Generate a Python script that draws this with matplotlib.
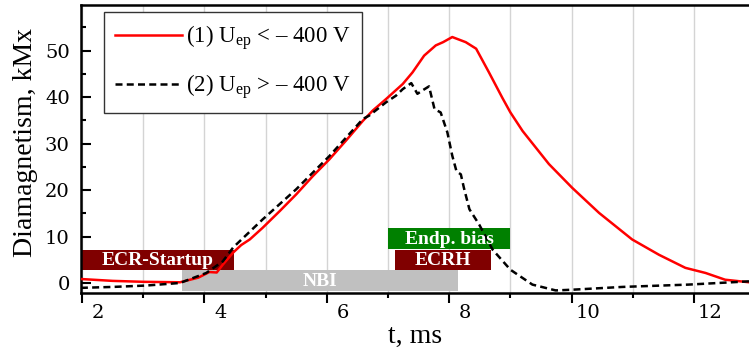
"""
Diamagnetism vs time for two end-plate bias regimes, with heating phases.
"""

import matplotlib.pyplot as plt
import matplotlib.transforms as mtransforms
from matplotlib.ticker import MultipleLocator

# (1) U_ep < -400 V
t_1 = [1.98, 2.5, 3.0, 3.6, 3.9, 4.08, 4.2, 4.3, 4.47, 4.6, 4.74, 4.95, 5.23,
       5.5, 5.77, 6.04, 6.31, 6.59, 6.75, 6.97, 7.24, 7.40, 7.59, 7.78, 7.9,
       8.05, 8.27, 8.44, 8.65, 8.87, 9.0, 9.2, 9.63, 10.01, 10.45, 10.99,
       11.43, 11.86, 12.19, 12.51, 12.9]
dia_1 = [0.9, 0.5, 0.3, 0.2, 1.2, 2.4, 2.3, 4.0, 6.6, 8.2, 9.4, 11.9, 15.5,
         19.1, 23.0, 26.6, 30.6, 34.9, 37.1, 39.6, 42.8, 45.3, 48.9, 51.1, 51.8,
         52.9, 51.8, 50.4, 45.3, 39.8, 36.7, 32.7, 25.6, 20.5, 15.1, 9.4,
         6.1, 3.3, 2.2, 0.75, 0.2]

# (2) U_ep > -400 V
t_2 = [1.98, 2.5, 3.05, 3.6, 4.03, 4.3, 4.47, 4.95, 5.5, 6.04, 6.59, 6.69,
       6.97, 7.13, 7.24, 7.38, 7.48, 7.56, 7.67, 7.76, 7.86, 7.97, 8.05, 8.12,
       8.19, 8.24, 8.33, 8.49, 8.71, 9.0, 9.36, 9.74, 10.01, 10.83, 11.91, 12.9]
dia_2 = [-1.0, -0.8, -0.5, 0.05, 2.2, 4.7, 7.7, 13.7, 20.2, 27.3, 35.3, 36.0,
         38.9, 40.3, 41.7, 43.0, 40.7, 41.4, 42.3, 37.4, 36.7, 32.4, 27.4, 24.0,
         23.4, 20.5, 15.9, 12.6, 7.2, 2.9, -0.3, -1.55, -1.4, -0.8, -0.3, 0.4]

labels = [r"(1) U$_{\rm ep}$ < – 400 V", r"(2) U$_{\rm ep}$ > – 400 V"]

# heating / bias phases: name, t_start, t_end, y_low, y_high
phase_names = ["ECR-Startup", "NBI", "ECRH", "Endp. bias"]
phase_start = [1.98, 3.64, 7.11, 7.0]
phase_end = [4.49, 8.14, 8.69, 9.0]
phase_low = [2.8, -1.6, 2.8, 7.3]
phase_high = [7.2, 2.8, 7.2, 11.9]
phase_colors = ["#800000", "#c0c0c0", "#800000", "#008000"]

serif = "Liberation Serif"
plt.rcParams["font.family"] = ["DejaVu Serif"]
plt.rcParams["mathtext.fontset"] = "custom"
plt.rcParams["mathtext.rm"] = serif

fig = plt.figure(figsize=(7.49, 3.52), dpi=100)
ax = fig.add_axes([0.108, 0.169, 0.892, 0.817])

for name, x0, x1, y0, y1, c in zip(phase_names, phase_start, phase_end,
                                   phase_low, phase_high, phase_colors):
    ax.fill_between([x0, x1], y0, y1, color=c, linewidth=0, zorder=2)
    ax.text((x0 + x1) / 2, (y0 + y1) / 2 - 0.2, name, color="white",
            family=serif, fontsize=14, fontweight="bold",
            ha="center", va="center", zorder=5)

ax.plot(t_1, dia_1, color="#ff0000", lw=1.8, label=labels[0], zorder=4)
ax.plot(t_2, dia_2, color="black", lw=1.8, dashes=(2.8, 1.7),
        label=labels[1], zorder=4)

ax.set_xlim(1.98, 12.9)
ax.set_ylim(-2, 59.8)
ax.xaxis.set_major_locator(MultipleLocator(2))
ax.xaxis.set_minor_locator(MultipleLocator(1))
ax.yaxis.set_major_locator(MultipleLocator(10))
ax.yaxis.set_minor_locator(MultipleLocator(5))
ax.grid(True, which="both", axis="x", color="#d4d4d4", lw=1.0, zorder=0)
ax.set_axisbelow(True)

ax.tick_params(axis="x", which="major", direction="out", length=7, width=1.5,
               labelsize=14, pad=1)
ax.tick_params(axis="x", which="minor", direction="out", length=3.6, width=1.5)
ax.tick_params(axis="y", which="major", direction="in", length=7, width=1.5,
               labelsize=14, pad=8)
ax.tick_params(axis="y", which="minor", direction="in", length=3.6, width=1.5)
offset = mtransforms.ScaledTranslation(0.16, 0, fig.dpi_scale_trans)
for lab in ax.get_xticklabels():
    lab.set_transform(lab.get_transform() + offset)

for side in ["left", "bottom", "top"]:
    ax.spines[side].set_linewidth(1.8)
ax.spines["right"].set_visible(False)

ax.set_xlabel("t, ms", family=serif, fontsize=20, labelpad=2)
ax.set_ylabel("Diamagnetism, kMx", family=serif, fontsize=20)
ax.yaxis.set_label_coords(-0.064, 0.52)

leg = ax.legend(loc="upper left", bbox_to_anchor=(0.034, 0.976),
                borderaxespad=0, prop={"family": serif, "size": 16.5},
                handlelength=2.9, handletextpad=0.2, labelspacing=0.85,
                borderpad=0.5, fancybox=False, framealpha=1)
leg.get_frame().set_edgecolor("#333333")
leg.get_frame().set_linewidth(1.0)

fig.savefig("out.png", dpi=100)
